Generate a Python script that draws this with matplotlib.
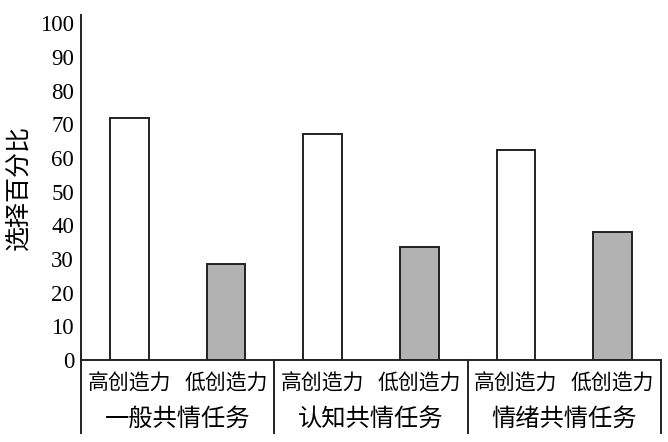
import matplotlib
matplotlib.use("Agg")
import matplotlib.pyplot as plt

# values (percent choosing)
tasks = ["一般共情任务", "认知共情任务", "情绪共情任务"]
levels = ["高创造力", "低创造力"]
high = [72, 67, 62.5]
low = [28.5, 33.5, 38]
yticks = list(range(0, 101, 10))

cjk = ["Noto Sans CJK SC", "DejaVu Sans"]

fig = plt.figure(figsize=(6.68, 4.42), dpi=100)
ax = fig.add_axes([81 / 668, 82 / 442, 580 / 668, 345 / 442])

vals = []
for h, l in zip(high, low):
    vals += [h, l]
colors = ["white", "#b2b2b2"] * len(tasks)
ax.bar(range(len(vals)), vals, width=0.4, color=colors,
       edgecolor="#222222", linewidth=1.4)

ax.set_xlim(-0.5, len(vals) - 0.5)
ax.set_ylim(0, 102.5)
ax.set_yticks(yticks)
ax.set_yticklabels([str(t) for t in yticks], family="Liberation Serif", fontsize=16.5)
ax.tick_params(axis="y", length=0, pad=5)
ax.set_xticks([])

for s in ["top", "right"]:
    ax.spines[s].set_visible(False)
for s in ["left", "bottom"]:
    ax.spines[s].set_linewidth(1.4)
    ax.spines[s].set_color("#222222")

ax.set_ylabel("选择百分比", family=cjk, fontsize=18, labelpad=6)

# two-level category axis below the plot
drop = -73 / 345 * 102.5
for i in range(len(tasks) + 1):
    x = i * 2 - 0.5
    ax.plot([x, x], [0, drop], color="#222222", lw=1.4, clip_on=False)
for i, t in enumerate(tasks):
    for j, lv in enumerate(levels):
        ax.text(i * 2 + j, -24 / 345 * 102.5, lv, family=cjk, fontsize=15,
                ha="center", va="center")
    ax.text(i * 2 + 0.5, -59 / 345 * 102.5, t, family=cjk, fontsize=17.5,
            ha="center", va="center")

fig.savefig("out.png", dpi=100)
